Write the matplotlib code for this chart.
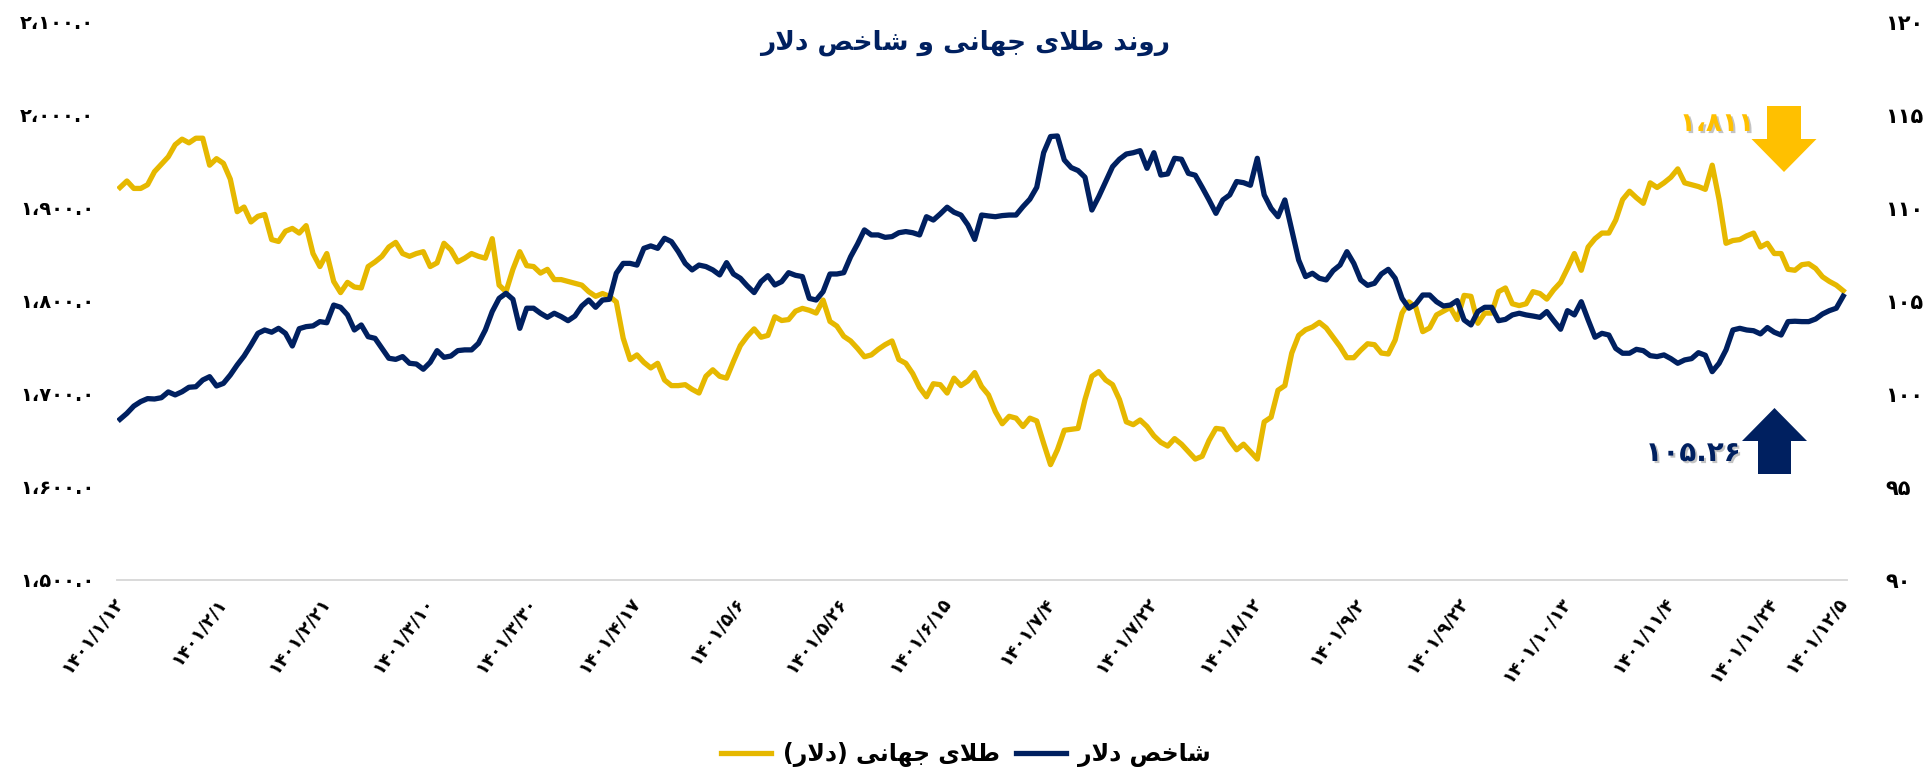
import numpy as np
import matplotlib
matplotlib.use("Agg")
import matplotlib.pyplot as plt
import matplotlib.patheffects as pe
from matplotlib.patches import Polygon
from matplotlib.transforms import ScaledTranslation

# world gold (USD/oz), left axis
GOLD = [
    1922, 1929, 1921, 1921, 1925, 1939, 1947, 1955, 1968, 1974,
    1970, 1975, 1975, 1946, 1953, 1948, 1931, 1896, 1901, 1885,
    1891, 1893, 1866, 1864, 1875, 1878, 1873, 1881, 1851, 1837,
    1851, 1821, 1809, 1820, 1815, 1814, 1837, 1842, 1848, 1858,
    1863, 1851, 1848, 1851, 1853, 1837, 1841, 1862, 1855, 1842,
    1846, 1851, 1848, 1846, 1867, 1817, 1810, 1834, 1853, 1838,
    1837, 1830, 1834, 1823, 1823, 1821, 1819, 1817, 1810, 1805,
    1808, 1805, 1799, 1760, 1737, 1742, 1734, 1728, 1733, 1715,
    1709, 1709, 1710, 1705, 1701, 1719, 1726, 1719, 1717, 1735,
    1752, 1762, 1770, 1761, 1763, 1783, 1779, 1780, 1789, 1792,
    1790, 1787, 1801, 1778, 1773, 1762, 1757, 1749, 1740, 1742,
    1748, 1753, 1757, 1737, 1733, 1722, 1707, 1697, 1711, 1710,
    1701, 1717, 1709, 1714, 1723, 1708, 1699, 1681, 1668, 1676,
    1674, 1665, 1674, 1671, 1647, 1624, 1640, 1661, 1662, 1663,
    1694, 1719, 1724, 1715, 1710, 1694, 1670, 1667, 1672, 1665,
    1655, 1648, 1644, 1652, 1646, 1638, 1630, 1633, 1650, 1663,
    1662, 1650, 1640, 1646, 1638, 1630, 1670, 1675, 1704, 1709,
    1744, 1763, 1769, 1772, 1777, 1771, 1761, 1751, 1739, 1739,
    1747, 1754, 1753, 1744, 1743, 1758, 1787, 1799, 1793, 1767,
    1771, 1785, 1789, 1793, 1780, 1806, 1805, 1776, 1787, 1787,
    1810, 1814, 1797, 1795, 1797, 1810, 1808, 1802, 1812, 1820,
    1835, 1851, 1833, 1858, 1867, 1873, 1873, 1887, 1909, 1918,
    1911, 1905, 1927, 1922, 1927, 1933, 1942, 1927, 1925, 1923,
    1920, 1946, 1909, 1862, 1865, 1866, 1870, 1873, 1858, 1862,
    1851, 1851, 1834, 1833, 1839, 1840, 1835, 1826, 1821, 1817,
    1811,
]

# dollar index, right axis
DXY = [
    98.64, 98.96, 99.35, 99.59, 99.75, 99.73, 99.80, 100.11, 99.95, 100.12,
    100.36, 100.39, 100.75, 100.93, 100.43, 100.57, 101.02, 101.56, 102.04, 102.63,
    103.26, 103.44, 103.32, 103.53, 103.26, 102.58, 103.51, 103.62, 103.66, 103.89,
    103.83, 104.78, 104.66, 104.25, 103.44, 103.71, 103.08, 102.99, 102.45, 101.92,
    101.86, 102.01, 101.65, 101.61, 101.33, 101.70, 102.33, 101.97, 102.04, 102.33,
    102.37, 102.37, 102.72, 103.44, 104.43, 105.14, 105.41, 105.09, 103.53, 104.61,
    104.61, 104.34, 104.12, 104.34, 104.16, 103.94, 104.19, 104.73, 105.05, 104.66,
    105.05, 105.09, 106.49, 107.02, 107.02, 106.93, 107.83, 107.96, 107.83, 108.37,
    108.19, 107.65, 107.02, 106.67, 106.93, 106.85, 106.67, 106.40, 107.06, 106.45,
    106.22, 105.81, 105.45, 106.04, 106.36, 105.86, 106.04, 106.52, 106.38, 106.31,
    105.14, 105.05, 105.50, 106.45, 106.45, 106.52, 107.38, 108.06, 108.82, 108.55,
    108.55, 108.42, 108.46, 108.67, 108.73, 108.67, 108.55, 109.53, 109.35, 109.68,
    110.04, 109.77, 109.62, 109.09, 108.31, 109.62, 109.57, 109.53, 109.59, 109.62,
    109.62, 110.07, 110.47, 111.11, 112.97, 113.84, 113.87, 112.58, 112.17, 112.01,
    111.65, 109.89, 110.61, 111.42, 112.22, 112.62, 112.90, 112.97, 113.08, 112.13,
    112.97, 111.77, 111.83, 112.67, 112.62, 111.86, 111.76, 111.11, 110.43, 109.71,
    110.43, 110.70, 111.42, 111.36, 111.22, 112.67, 110.70, 109.98, 109.53, 110.43,
    108.82, 107.20, 106.31, 106.49, 106.22, 106.13, 106.63, 106.93, 107.65, 107.02,
    106.13, 105.84, 105.95, 106.45, 106.70, 106.22, 105.14, 104.61, 104.84, 105.32,
    105.32, 104.96, 104.73, 104.78, 105.02, 103.98, 103.71, 104.43, 104.66, 104.66,
    103.94, 104.01, 104.25, 104.34, 104.25, 104.19, 104.12, 104.43, 103.94, 103.48,
    104.48, 104.25, 104.96, 103.98, 103.05, 103.26, 103.17, 102.45, 102.19, 102.19,
    102.40, 102.33, 102.06, 102.01, 102.10, 101.90, 101.65, 101.83, 101.90, 102.22,
    102.08, 101.20, 101.65, 102.37, 103.44, 103.53, 103.44, 103.40, 103.23, 103.57,
    103.32, 103.17, 103.89, 103.91, 103.89, 103.89, 104.03, 104.30, 104.48, 104.61,
    105.26,
]

DATE_LABELS = [
    "1401/1/12", "1401/2/1", "1401/2/21", "1401/3/10", "1401/3/30", "1401/4/17",
    "1401/5/6", "1401/5/26", "1401/6/15", "1401/7/4", "1401/7/22", "1401/8/12",
    "1401/9/2", "1401/9/22", "1401/10/13", "1401/11/4", "1401/11/24", "1401/12/5",
]
LABEL_EVERY = 15
LEFT_TICKS = [1500, 1600, 1700, 1800, 1900, 2000, 2100]
RIGHT_TICKS = [90, 95, 100, 105, 110, 115, 120]

TITLE = "روند طلای جهانی و شاخص دلار"
GOLD_NAME = "طلای جهانی (دلار)"
DXY_NAME = "شاخص دلار"
GOLD_LAST = "1,811"
DXY_LAST = "105.26"

GOLD_C = "#E6B800"
NAVY = "#002060"
ARROW_GOLD = "#FFC000"

# isolated, final, initial, medial presentation forms (no shaping in matplotlib)
FORMS = {
    "ا": ("\uFE8D", "\uFE8E", None, None),
    "د": ("\uFEA9", "\uFEAA", None, None),
    "ر": ("\uFEAD", "\uFEAE", None, None),
    "و": ("\uFEED", "\uFEEE", None, None),
    "ن": ("\uFEE5", "\uFEE6", "\uFEE7", "\uFEE8"),
    "ط": ("\uFEC1", "\uFEC2", "\uFEC3", "\uFEC4"),
    "ل": ("\uFEDD", "\uFEDE", "\uFEDF", "\uFEE0"),
    "ی": ("\uFEEF", "\uFEF0", "\uFEF3", "\uFEF4"),
    "ج": ("\uFE9D", "\uFE9E", "\uFE9F", "\uFEA0"),
    "ه": ("\uFEE9", "\uFEEA", "\uFEEB", "\uFEEC"),
    "ش": ("\uFEB5", "\uFEB6", "\uFEB7", "\uFEB8"),
    "خ": ("\uFEA5", "\uFEA6", "\uFEA7", "\uFEA8"),
    "ص": ("\uFEB9", "\uFEBA", "\uFEBB", "\uFEBC"),
}
FA_DIGITS = str.maketrans("0123456789,", "۰۱۲۳۴۵۶۷۸۹،")


def fa(text):
    def links_next(c):
        return c in FORMS and FORMS[c][2] is not None
    out = []
    i = 0
    while i < len(text):
        c = text[i]
        if c not in FORMS:
            out.append(c)
            i += 1
            continue
        prev_link = i > 0 and links_next(text[i - 1])
        if c == "ل" and i + 1 < len(text) and text[i + 1] == "ا":
            out.append("\uFEFC" if prev_link else "\uFEFB")
            i += 2
            continue
        next_link = links_next(c) and i + 1 < len(text) and text[i + 1] in FORMS
        iso, fin, ini, med = FORMS[c]
        if prev_link and next_link:
            out.append(med)
        elif prev_link:
            out.append(fin)
        elif next_link:
            out.append(ini)
        else:
            out.append(iso)
        i += 1
    mirror = {"(": ")", ")": "("}
    return "".join(mirror.get(ch, ch) for ch in reversed(out))


def fa_num(s):
    return s.translate(FA_DIGITS)


def block_arrow(fig, cx, top, bottom, shaft_w, head_w, head_len, up, color):
    # pixel geometry -> figure fraction
    W, H = fig.get_size_inches() * fig.dpi
    if up:
        pts = [(cx - shaft_w / 2, bottom), (cx - shaft_w / 2, top + head_len),
               (cx - head_w / 2, top + head_len), (cx, top),
               (cx + head_w / 2, top + head_len), (cx + shaft_w / 2, top + head_len),
               (cx + shaft_w / 2, bottom)]
    else:
        pts = [(cx - shaft_w / 2, top), (cx - shaft_w / 2, bottom - head_len),
               (cx - head_w / 2, bottom - head_len), (cx, bottom),
               (cx + head_w / 2, bottom - head_len), (cx + shaft_w / 2, bottom - head_len),
               (cx + shaft_w / 2, top)]
    pts = [(x / W, 1 - y / H) for x, y in pts]
    fig.patches.append(Polygon(pts, closed=True, facecolor=color, edgecolor="none",
                               transform=fig.transFigure, figure=fig))


def main():
    plt.rcParams["font.family"] = ["DejaVu Sans"]
    plt.rcParams["font.weight"] = "bold"

    fig = plt.figure(figsize=(19.30, 7.73), dpi=100)
    ax = fig.add_axes([0.0604, 0.2497, 0.8964, 0.7219])
    ax2 = ax.twinx()

    x = np.arange(len(GOLD))
    l1, = ax.plot(x, GOLD, color=GOLD_C, lw=3.8, solid_joinstyle="round")
    l2, = ax2.plot(x, DXY, color=NAVY, lw=3.8, solid_joinstyle="round")

    ax.set_xlim(-0.5, len(GOLD) - 0.5)
    ax.set_ylim(1500, 2100)
    ax2.set_ylim(90, 120)

    ax.set_yticks(LEFT_TICKS)
    ax.set_yticklabels([fa_num(f"{v:,.1f}") for v in LEFT_TICKS], fontsize=14, fontweight="bold")
    ax2.set_yticks(RIGHT_TICKS)
    ax2.set_yticklabels([fa_num(str(v)) for v in RIGHT_TICKS], fontsize=15, fontweight="bold")

    ticks = [i * LABEL_EVERY for i in range(len(DATE_LABELS) - 1)] + [len(GOLD) - 1]
    ax.set_xticks(ticks)
    ax.set_xticklabels([fa_num(d) for d in DATE_LABELS], rotation=53, ha="right",
                       va="center", rotation_mode="anchor", fontsize=13, fontweight="bold")
    last = ax.get_xticklabels()[-1]
    last.set_transform(last.get_transform() + ScaledTranslation(0, -0.2, fig.dpi_scale_trans))

    ax.tick_params(axis="x", length=0, pad=14)
    ax.tick_params(axis="y", length=0, pad=16)
    ax2.tick_params(axis="y", length=0, pad=28)
    for a in (ax, ax2):
        for s in ("top", "left", "right"):
            a.spines[s].set_visible(False)
        a.spines["bottom"].set_color("#D9D9D9")
        a.spines["bottom"].set_linewidth(1.2)

    fig.text(0.5, 0.945, fa(TITLE), ha="center", va="center", fontsize=19,
             fontweight="bold", color=NAVY)

    fig.legend([l1, l2], [fa(GOLD_NAME), fa(DXY_NAME)], loc="center",
               bbox_to_anchor=(0.5005, 0.0233), ncol=2, frameon=False,
               prop={"size": 17, "weight": "bold"}, handlelength=2.1,
               handletextpad=0.5, columnspacing=0.7)

    shadow = [pe.withSimplePatchShadow(offset=(1.5, -1.5), shadow_rgbFace="#888888", alpha=0.5)]
    fig.text(1717 / 1930, 1 - 124 / 773, fa_num(GOLD_LAST), ha="center", va="center",
             fontsize=19, fontweight="bold", color=ARROW_GOLD, path_effects=shadow)
    fig.text(1693 / 1930, 1 - 453 / 773, fa_num(DXY_LAST), ha="center", va="center",
             fontsize=20, fontweight="bold", color=NAVY, path_effects=shadow)

    block_arrow(fig, 1784, 106, 172, 34, 65, 33, up=False, color=ARROW_GOLD)
    block_arrow(fig, 1774.5, 408, 474, 33, 65, 33, up=True, color=NAVY)

    fig.savefig("out.png", dpi=100)
    plt.close(fig)


if __name__ == "__main__":
    main()
